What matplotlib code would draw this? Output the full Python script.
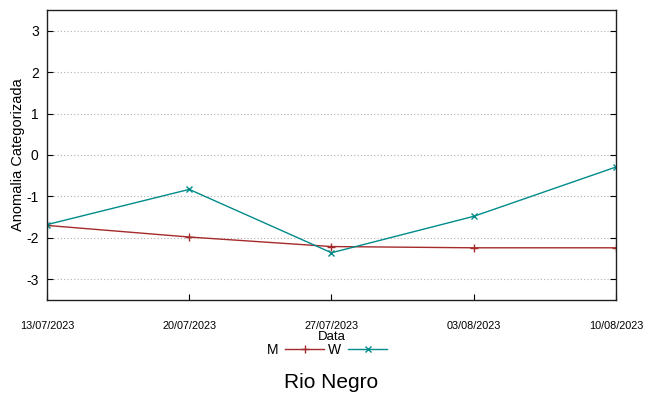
import matplotlib
matplotlib.use("Agg")
import matplotlib.pyplot as plt
from datetime import datetime

plt.rcParams['font.family'] = ['Liberation Sans', 'DejaVu Sans']

dates = ["13/07/2023", "20/07/2023", "27/07/2023", "03/08/2023", "10/08/2023"]
m_values = [-1.70, -1.98, -2.21, -2.24, -2.24]
w_values = [-1.68, -0.83, -2.36, -1.48, -0.29]
y_ticks = [-3, -2, -1, 0, 1, 2, 3]

x = [datetime.strptime(d, "%d/%m/%Y") for d in dates]

fig = plt.figure(figsize=(6.56, 3.94), dpi=100)
ax = fig.add_axes([47/656, 1-300/394, (616-47)/656, 290/394])

ax.plot(x, m_values, color='#a52a2a', lw=1.0, marker='+', ms=6, mew=1.0, label='M')
ax.plot(x, w_values, color='#008b8b', lw=1.0, marker='x', ms=5, mew=1.0, label='W')

ax.set_xlim(x[0], x[-1])
ax.set_ylim(-3.5, 3.5)
ax.set_yticks(y_ticks)
ax.set_yticklabels([str(t) for t in y_ticks], fontsize=10)
ax.set_xticks(x)
ax.set_xticklabels(dates, fontsize=7.8)
ax.tick_params(axis='y', direction='in', left=True, right=True, length=4, pad=6)
ax.tick_params(axis='x', direction='in', bottom=True, top=False, length=4, pad=15)
ax.yaxis.grid(True, color='#b0b0b0', linestyle=(0, (1, 2)), lw=0.8)
for s in ax.spines.values():
    s.set_linewidth(1.0)
    s.set_color('#202020')

ax.set_ylabel("Anomalia Categorizada", fontsize=10.5, labelpad=1)
ax.set_xlabel("Data", fontsize=9.5, labelpad=0)

leg = fig.legend(loc='center', bbox_to_anchor=(327/656, 1-350/394), ncol=2,
                 markerfirst=False, frameon=False, fontsize=10,
                 handlelength=2.8, handletextpad=0.5, columnspacing=0.3,
                 borderaxespad=0, borderpad=0)

fig.text(331/656, 1-382/394, "Rio Negro", fontsize=15, ha='center', va='center')

fig.savefig("out.png", dpi=100)
